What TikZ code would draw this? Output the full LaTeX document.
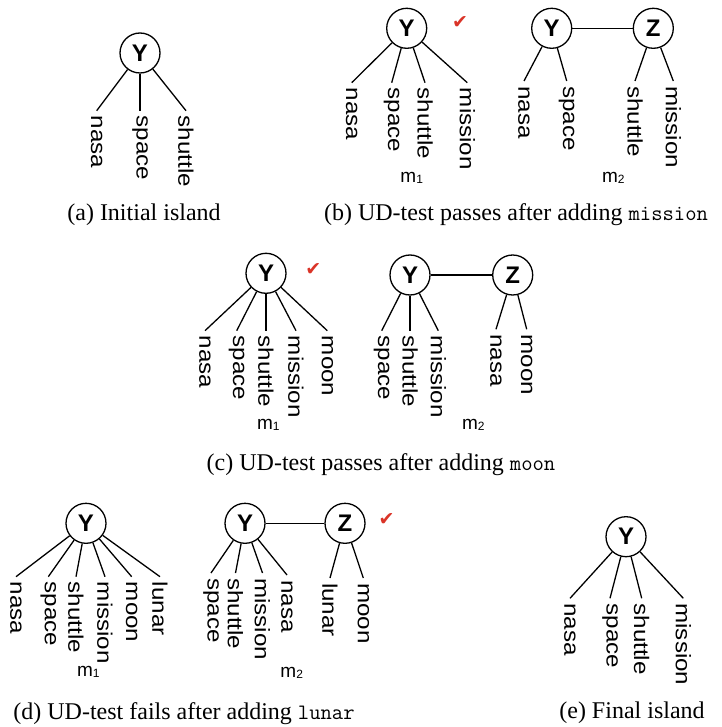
\documentclass[tikz,border=0pt]{standalone}
\usepackage{fontspec}
\setmainfont{Liberation Serif}
\setsansfont{Liberation Sans}
\newfontfamily\wordfont[FakeStretch=1.15]{Liberation Sans}
\newfontfamily\dejavu{DejaVu Sans}
\definecolor{checkred}{RGB}{218,52,40}
\tikzset{
  vnode/.style={circle,draw,line width=1.3pt,minimum size=40pt,inner sep=0pt,
    font=\sffamily\bfseries\fontsize{24}{24}\selectfont},
  word/.style={rotate=-90,anchor=west,inner xsep=5pt,inner ysep=0pt,
    font=\wordfont\fontsize{21}{21}\selectfont},
  edge/.style={line width=1.3pt},
  mlabel/.style={inner sep=0pt,font=\sffamily\fontsize{19}{19}\selectfont},
  caption/.style={inner sep=0pt,font=\fontsize{24}{24}\selectfont},
  tick/.style={inner sep=0pt,text=checkred,font=\dejavu\fontsize{19}{19}\selectfont}
}
\newcommand{\mlab}[1]{m\raisebox{-1pt}{\fontsize{12}{12}\selectfont #1}}
\newcommand{\capword}[1]{{\fontsize{22}{22}\selectfont\ttfamily #1}}
\begin{document}
\begin{tikzpicture}[x=1pt,y=-1pt]
\useasboundingbox (0,0) rectangle (721,727);
% (a)
\node[vnode] (aY) at (140,53) {Y};
\node[word] (a1) at (96.7,110.7) {nasa};
\node[word] (a2) at (140,110.7) {space};
\node[word] (a3) at (186,110.7) {shuttle};
\foreach \w in {a1,a2,a3} \draw[edge] (aY) -- (\w.west);
\node[caption] (capa) at (144,215) {(a) Initial island};
% (b) m1
\node[vnode] (bY) at (406.7,28.3) {Y};
\node[word] (b1) at (351.7,82.7) {nasa};
\node[word] (b2) at (391.7,82.7) {space};
\node[word] (b3) at (425,82.7) {shuttle};
\node[word] (b4) at (467.3,82.7) {mission};
\foreach \w in {b1,b2,b3,b4} \draw[edge] (bY) -- (\w.west);
\node[tick] (bchk) at (460,23) {✔};
\node[mlabel] (bm1) at (411.7,178.3) {\mlab{1}};
% (b) m2
\node[vnode] (bbY) at (551.7,28.3) {Y};
\node[vnode] (bbZ) at (653.3,28.3) {Z};
\draw[edge] (bbY) -- (bbZ);
\node[word] (bb1) at (524,81) {nasa};
\node[word] (bb2) at (566.7,81) {space};
\node[word] (bb3) at (635,81) {shuttle};
\node[word] (bb4) at (673.3,81) {mission};
\foreach \w in {bb1,bb2} \draw[edge] (bbY) -- (\w.west);
\foreach \w in {bb3,bb4} \draw[edge] (bbZ) -- (\w.west);
\node[mlabel] (bm2) at (613.3,178.3) {\mlab{2}};
\node[caption] (capb) at (516,215) {(b) UD-test passes after adding \capword{mission}};
% (c) m1
\node[vnode] (cY) at (266,273.3) {Y};
\node[word] (c1) at (205,330.7) {nasa};
\node[word] (c2) at (236.7,330.7) {space};
\node[word] (c3) at (266,330.7) {shuttle};
\node[word] (c4) at (296,330.7) {mission};
\node[word] (c5) at (327.3,330.7) {moon};
\foreach \w in {c1,c2,c3,c4,c5} \draw[edge] (cY) -- (\w.west);
\node[tick] (cchk) at (313.3,270) {✔};
\node[mlabel] (cm1) at (268.3,425) {\mlab{1}};
% (c) m2
\node[vnode] (ccY) at (410,275) {Y};
\node[vnode] (ccZ) at (512.7,275) {Z};
\draw[edge] (ccY) -- (ccZ);
\node[word] (cc1) at (381.7,330.7) {space};
\node[word] (cc2) at (410,330.7) {shuttle};
\node[word] (cc3) at (438.3,330.7) {mission};
\node[word] (cc4) at (496,329.3) {nasa};
\node[word] (cc5) at (526.7,329.3) {moon};
\foreach \w in {cc1,cc2,cc3} \draw[edge] (ccY) -- (\w.west);
\foreach \w in {cc4,cc5} \draw[edge] (ccZ) -- (\w.west);
\node[mlabel] (cm2) at (473.3,425) {\mlab{2}};
\node[caption] (capc) at (381,465) {(c) UD-test passes after adding \capword{moon}};
% (d) m1
\node[vnode] (dY) at (86,523.3) {Y};
\node[word] (d1) at (16,576.7) {nasa};
\node[word] (d2) at (48.3,576.7) {space};
\node[word] (d3) at (76,576.7) {shuttle};
\node[word] (d4) at (105,576.7) {mission};
\node[word] (d5) at (131.7,576.7) {moon};
\node[word] (d6) at (160,576.7) {lunar};
\foreach \w in {d1,d2,d3,d4,d5,d6} \draw[edge] (dY) -- (\w.west);
\node[mlabel] (dm1) at (88.3,671.7) {\mlab{1}};
% (d) m2
\node[vnode] (ddY) at (245,523.3) {Y};
\node[vnode] (ddZ) at (345,523.3) {Z};
\draw[edge] (ddY) -- (ddZ);
\node[word] (dd1) at (211,573) {space};
\node[word] (dd2) at (235.5,573) {shuttle};
\node[word] (dd3) at (262.5,573) {mission};
\node[word] (dd4) at (287,575) {nasa};
\node[word] (dd5) at (330,578) {lunar};
\node[word] (dd6) at (363.3,578) {moon};
\foreach \w in {dd1,dd2,dd3,dd4} \draw[edge] (ddY) -- (\w.west);
\foreach \w in {dd5,dd6} \draw[edge] (ddZ) -- (\w.west);
\node[tick] (dchk) at (386.7,520) {✔};
\node[mlabel] (dm2) at (291.7,673.3) {\mlab{2}};
\node[caption] (capd) at (184,714) {(d) UD-test fails after adding \capword{lunar}};
% (e)
\node[vnode] (eY) at (626,536.7) {Y};
\node[word] (e1) at (570,598.3) {nasa};
\node[word] (e2) at (610,598.3) {space};
\node[word] (e3) at (641.7,598.3) {shuttle};
\node[word] (e4) at (683.3,598.3) {mission};
\foreach \w in {e1,e2,e3,e4} \draw[edge] (eY) -- (\w.west);
\node[caption] (cape) at (632,713) {(e) Final island};
\end{tikzpicture}
\end{document}
